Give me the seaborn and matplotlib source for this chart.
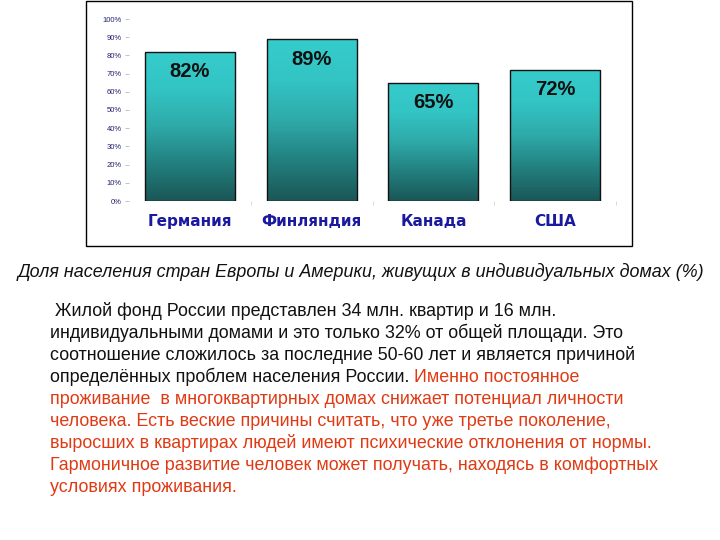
import numpy as np
import pandas as pd
import matplotlib
matplotlib.use('Agg')
import matplotlib.pyplot as plt
import seaborn as sns
from matplotlib.colors import LinearSegmentedColormap
from matplotlib.patches import Rectangle

# данные
countries = ['Германия', 'Финляндия', 'Канада', 'США']
share = [82, 89, 65, 72]
yticks = list(range(0, 101, 10))

caption = 'Доля населения стран Европы и Америки, живущих в индивидуальных домах (%)'
black_lines = [
    ' Жилой фонд России представлен 34 млн. квартир и 16 млн.',
    'индивидуальными домами и это только 32% от общей площади. Это',
    'соотношение сложилось за последние 50-60 лет и является причиной',
]
mixed_line = ('определённых проблем населения России. ', 'Именно постоянное')
red_lines = [
    'проживание  в многоквартирных домах снижает потенциал личности',
    'человека. Есть веские причины считать, что уже третье поколение,',
    'выросших в квартирах людей имеют психические отклонения от нормы.',
    'Гармоничное развитие человек может получать, находясь в комфортных',
    'условиях проживания.',
]

df = pd.DataFrame({'country': countries, 'share': share})

sns.set_style('white')
plt.rcParams['font.family'] = ['Liberation Sans', 'DejaVu Sans']

fig = plt.figure(figsize=(7.2, 5.4), dpi=100)
fig.patch.set_facecolor('white')

# рамка вокруг диаграммы
fig.add_artist(Rectangle((86/720, 1 - 246/540), 546/720, 245/540,
                         transform=fig.transFigure, fill=False,
                         edgecolor='black', linewidth=1.0))

ax = fig.add_axes([129/720, 1 - 201/540, (616 - 129)/720, (201 - 19)/540])
sns.barplot(data=df, x='country', y='share', ax=ax, color='#33c9c9',
            width=0.74, edgecolor='#111111', linewidth=1.0)

# градиент внутри столбцов
grad = LinearSegmentedColormap.from_list(
    'teal', ['#1b5656', '#22807f', '#2eaaa9', '#33c4c4', '#36cccc'])
gimg = np.linspace(0, 1, 256).reshape(-1, 1)
for p in ax.patches:
    x0, y0 = p.get_x(), p.get_y()
    w, h = p.get_width(), p.get_height()
    im = ax.imshow(gimg, cmap=grad, origin='lower', aspect='auto',
                   extent=[x0, x0 + w, y0, y0 + h], zorder=p.get_zorder() - 0.1)
    im.set_clip_path(p)
    p.set_facecolor('none')
    p.set_zorder(3)
    ax.text(x0 + w / 2, y0 + h - 11, f'{int(h)}%', ha='center', va='center',
            fontsize=14.5, fontweight='bold', color='#111111', zorder=4)
ax.set_xlim(-0.5, 3.5)
ax.set_ylim(0, 100)

for s in ax.spines.values():
    s.set_visible(False)
ax.set_yticks(yticks)
ax.set_yticklabels([f'{t}%' for t in yticks], fontsize=5.5, color='#22226e')
ax.tick_params(axis='y', left=True, length=3, width=0.5, color='#aaaaaa', pad=2)
ax.tick_params(axis='x', which='major', bottom=False, pad=6)
ax.set_xticks([0.5, 1.5, 2.5, 3.5], minor=True)
ax.tick_params(axis='x', which='minor', bottom=True, length=3, width=0.5,
               color='#cccccc')
ax.set_xticklabels(countries, fontsize=11, fontweight='bold', color='#1a1aa0',
                   family=['DejaVu Sans'])
ax.set_xlabel(None)
ax.set_ylabel(None)
ax.grid(False)
ax.set_facecolor('white')

# подпись и текст
fig.text(18/720, 1 - 272/540, caption, fontsize=12.9, style='italic',
         va='center', ha='left', color='#111111')

fs = 12.9
lx = 50/720
y = 311
step = 22
for line in black_lines:
    fig.text(lx, 1 - y/540, line, fontsize=fs, va='center', ha='left', color='#111111')
    y += step
t = fig.text(lx, 1 - y/540, mixed_line[0], fontsize=fs, va='center', ha='left', color='#111111')
fig.canvas.draw()
bb = t.get_window_extent()
fig.text(bb.x1 / 720, 1 - y/540, mixed_line[1], fontsize=fs, va='center', ha='left',
         color='#e03a14')
y += step
for line in red_lines:
    fig.text(lx, 1 - y/540, line, fontsize=fs, va='center', ha='left', color='#e03a14')
    y += step

fig.savefig('out.png', dpi=100)
